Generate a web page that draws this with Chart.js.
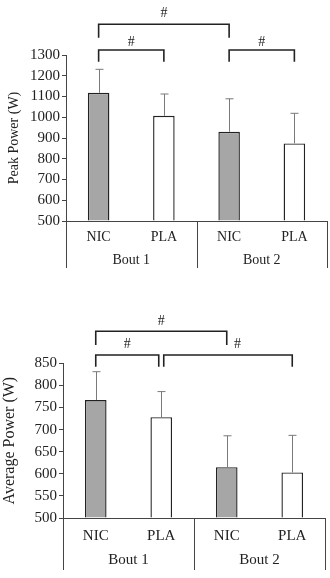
<!DOCTYPE html>
<html>
<head>
<meta charset="utf-8">
<script src="https://cdn.jsdelivr.net/npm/chart.js@4.4.1/dist/chart.umd.min.js"></script>
<style>
  html, body { margin: 0; padding: 0; background: #fff; }
  .panel { position: absolute; left: 0; width: 330px; }
</style>
</head>
<body>
<div class="panel" style="top:0;height:290px"><canvas id="peak" width="330" height="290"></canvas></div>
<div class="panel" style="top:290px;height:288px"><canvas id="avg" width="330" height="288"></canvas></div>
<script>
// Données
const categories = ['NIC', 'PLA', 'NIC', 'PLA'];
const groups = ['Bout 1', 'Bout 2'];
const peakMean = [1118, 1007, 930, 874];
const peakSD = [113, 105, 159, 145];
const peakTicks = [500, 600, 700, 800, 900, 1000, 1100, 1200, 1300];
const avgMean = [767, 728, 615, 603];
const avgSD = [64, 58, 71, 84];
const avgTicks = [500, 550, 600, 650, 700, 750, 800, 850];
// comparaisons significatives (indices de catégories), par rangée
const peakBrackets = [[[0, 2]], [[0, 1], [2, 3]]];
const avgBrackets = [[[0, 2]], [[0, 1], [1, 3]]];
const sigMark = '#';

const FONT = "'Liberation Serif', 'Times New Roman', serif";
const INK = '#222';
const fills = ['#a6a6a6', '#ffffff', '#a6a6a6', '#ffffff'];

// Barres d'erreur, crochets et étiquettes groupées
const annotate = {
    id: 'annotate',
    afterDatasetsDraw(chart, args, o) {
        const ctx = chart.ctx;
        const meta = chart.getDatasetMeta(0);
        const ys = chart.scales.y;
        const xs = chart.scales.x;
        const area = chart.chartArea;
        ctx.save();

        // barres d'erreur (vers le haut seulement)
        ctx.strokeStyle = '#7a7a7a';
        ctx.lineWidth = 1;
        o.sd.forEach((sd, i) => {
            const bar = meta.data[i];
            const x = Math.round(bar.x) + 0.5;
            const yTop = ys.getPixelForValue(o.mean[i] + sd);
            ctx.beginPath();
            ctx.moveTo(x, bar.y);
            ctx.lineTo(x, yTop);
            ctx.moveTo(x - 4, yTop);
            ctx.lineTo(x + 4, yTop);
            ctx.stroke();
        });

        // crochets de significativité
        ctx.strokeStyle = INK;
        ctx.lineWidth = 1.6;
        ctx.fillStyle = INK;
        ctx.font = '14px ' + FONT;
        ctx.textAlign = 'center';
        ctx.textBaseline = 'middle';
        o.brackets.forEach((row, r) => {
            const yLine = area.top + o.bracketY[r];
            const yLeg = yLine + o.bracketLeg[r];
            row.forEach(([a, b], k) => {
                let x1 = xs.getPixelForValue(a);
                let x2 = xs.getPixelForValue(b);
                if (row.some(([c], j) => j !== k && c === b)) x2 -= 2.5;
                if (row.some(([c, d], j) => j !== k && d === a)) x1 += 2.5;
                ctx.beginPath();
                ctx.moveTo(x1, yLeg);
                ctx.lineTo(x1, yLine);
                ctx.lineTo(x2, yLine);
                ctx.lineTo(x2, yLeg);
                ctx.stroke();
                const shift = (o.markShift && o.markShift[r + '-' + k]) || 0;
                ctx.fillText(sigMark, (x1 + x2) / 2 + shift, yLine - o.markGap[r]);
            });
        });

        // séparateurs de groupes sous l'axe
        ctx.strokeStyle = '#444';
        ctx.lineWidth = 1;
        const per = categories.length / groups.length;
        const edges = [area.left];
        for (let g = 1; g < groups.length; g++) {
            edges.push((xs.getPixelForValue(g * per - 1) + xs.getPixelForValue(g * per)) / 2);
        }
        edges.push(area.right);
        edges.forEach(x => {
            const xx = Math.round(x) + 0.5;
            ctx.beginPath();
            ctx.moveTo(xx, area.bottom);
            ctx.lineTo(xx, area.bottom + o.groupLine);
            ctx.stroke();
        });

        // étiquettes
        ctx.fillStyle = INK;
        ctx.font = o.labelSize + 'px ' + FONT;
        categories.forEach((c, i) => {
            ctx.fillText(c, xs.getPixelForValue(i), area.bottom + o.catY);
        });
        groups.forEach((g, k) => {
            ctx.fillText(g, (edges[k] + edges[k + 1]) / 2, area.bottom + o.groupY);
        });
        ctx.restore();
    }
};

function makeChart(id, mean, sd, ticks, title, layout, extra) {
    return new Chart(document.getElementById(id), {
        type: 'bar',
        data: {
            labels: categories,
            datasets: [{
                data: mean,
                base: ticks[0],
                backgroundColor: fills,
                borderColor: '#222',
                borderWidth: 1.4,
                barPercentage: 0.33,
                categoryPercentage: 1
            }]
        },
        options: {
            responsive: false,
            animation: false,
            layout: { padding: layout.padding },
            scales: {
                x: {
                    ticks: { display: false },
                    grid: { display: false },
                    border: { display: true, color: '#444', width: 1 },
                    afterFit: s => { s.height = 0; }
                },
                y: {
                    min: ticks[0],
                    max: ticks[ticks.length - 1],
                    afterBuildTicks: s => { s.ticks = ticks.map(v => ({ value: v })); },
                    afterFit: s => { s.width = layout.axisWidth; },
                    ticks: {
                        color: INK,
                        padding: 2,
                        autoSkip: false,
                        font: { family: FONT, size: layout.tickSize },
                        callback: v => String(v)
                    },
                    grid: { drawOnChartArea: false, drawTicks: true, tickLength: 4, color: '#444' },
                    border: { display: true, color: '#444', width: 1 },
                    title: {
                        display: true,
                        text: title,
                        color: INK,
                        padding: { top: layout.titlePad, bottom: 0 },
                        font: { family: FONT, size: layout.titleSize }
                    }
                }
            },
            plugins: {
                legend: { display: false },
                tooltip: { enabled: false },
                annotate: Object.assign({ mean: mean, sd: sd }, extra)
            }
        },
        plugins: [annotate]
    });
}

makeChart('peak', peakMean, peakSD, peakTicks, 'Peak Power (W)',
    { padding: { top: 55, right: 3, bottom: 69, left: 0 }, axisWidth: 66, tickSize: 15, titleSize: 14, titlePad: 5.5 },
    { brackets: peakBrackets, bracketY: [-30.7, -5], bracketLeg: [13.4, 11.7], markGap: [11, 8],
      groupLine: 47, catY: 16, groupY: 39.5, labelSize: 14 });

makeChart('avg', avgMean, avgSD, avgTicks, 'Average Power (W)',
    { padding: { top: 73.3, right: 5, bottom: 60, left: 0 }, axisWidth: 63, tickSize: 15, titleSize: 16, titlePad: 0 },
    { brackets: avgBrackets, bracketY: [-32, -8.3], bracketLeg: [13.7, 11.7], markGap: [9.6, 10.5],
      markShift: { '1-1': 9.5 },
      groupLine: 52, catY: 18.3, groupY: 41.7, labelSize: 15 });
</script>
</body>
</html>
